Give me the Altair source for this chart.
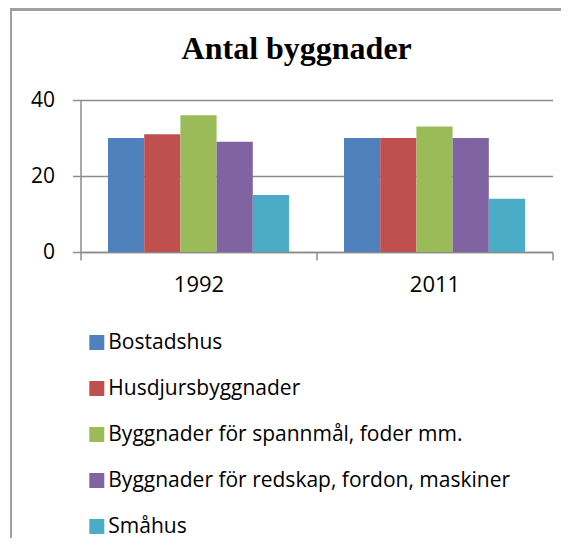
import altair as alt
import pandas as pd

title_text = ["Antal byggnader"]
years = ["1992", "2011"]
series = [
    "Bostadshus",
    "Husdjursbyggnader",
    "Byggnader för spannmål, foder mm.",
    "Byggnader för redskap, fordon, maskiner",
    "Småhus",
]
values_1992 = [30, 31, 36, 29, 15]
values_2011 = [30, 30, 33, 30, 14]
colors = ["#4F81BD", "#C0504D", "#9BBB59", "#8064A2", "#4BACC6"]

rows = []
for y, vals in zip(years, [values_1992, values_2011]):
    for s, v in zip(series, vals):
        rows.append({"year": y, "series": s, "value": v})
df = pd.DataFrame(rows)

W, H = 472, 152
LINE = "#8c8c8c"
FONT = "Open Sans"

bars = alt.Chart(df).mark_bar().encode(
    x=alt.X(
        "year:N",
        sort=years,
        scale=alt.Scale(paddingInner=0, paddingOuter=0),
        axis=alt.Axis(
            title=None, labelAngle=0, tickBand="extent", tickSize=8,
            labelPadding=14, labelFont=FONT, labelFontSize=22, labelColor="#000",
            domainColor=LINE, tickColor=LINE, domainWidth=1.5, tickWidth=1.5, grid=False,
        ),
    ),
    xOffset=alt.XOffset("series:N", sort=series,
                        scale=alt.Scale(paddingInner=0, paddingOuter=0.76)),
    y=alt.Y(
        "value:Q",
        scale=alt.Scale(domain=[0, 40], nice=False),
        axis=alt.Axis(
            title=None, values=[0, 20, 40], tickSize=8, labelPadding=18,
            labelFont=FONT, labelFontSize=21, labelColor="#000",
            domainColor=LINE, tickColor=LINE, gridColor=LINE,
            domainWidth=1.5, tickWidth=1.5, gridWidth=1.5,
        ),
    ),
    color=alt.Color(
        "series:N",
        sort=series,
        scale=alt.Scale(domain=series, range=colors),
        legend=alt.Legend(
            title=None, orient="none", legendX=5.8, legendY=232,
            direction="vertical", symbolType="square", symbolSize=225,
            symbolStrokeWidth=0, labelFont=FONT, labelFontSize=21,
            labelColor="#000", labelOffset=1, rowPadding=24, padding=0,
            labelLimit=600,
        ),
    ),
)

title = alt.Chart(pd.DataFrame({"t": title_text})).mark_text(
    font="Liberation Serif", fontSize=32, fontWeight="bold", color="#000",
    align="center", baseline="alphabetic",
).encode(text="t:N", x=alt.value(216.2), y=alt.value(-40.7))

border_top = alt.Chart(df).mark_rule(color="#a0a0a0", strokeWidth=2).encode(
    x=alt.value(-70.5), x2=alt.value(490), y=alt.value(-90.5)
)
border_left = alt.Chart(df).mark_rule(color="#a0a0a0", strokeWidth=2).encode(
    x=alt.value(-69.5), y=alt.value(-90.5), y2=alt.value(460)
)

chart = alt.layer(bars, title, border_top, border_left).properties(
    width=W,
    height=H,
    autosize=alt.AutoSizeParams(type="none"),
    padding={"left": 72.5, "top": 92, "right": 8.5, "bottom": 286},
).configure_view(stroke=None)

chart.save("out.html", embed_options={"renderer": "svg", "actions": False})
